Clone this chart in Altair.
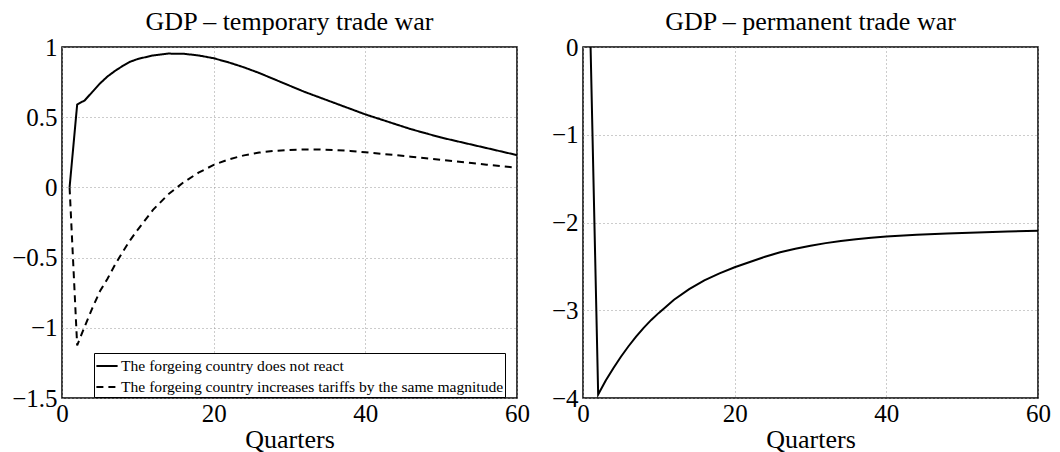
import altair as alt
import pandas as pd

FONT = "Liberation Serif"

# ---- data ----
quarters_temp = [1, 2, 3, 4, 5, 6, 7, 8, 9, 10, 12, 14, 16, 18, 20, 22, 24, 26, 28, 30,
                 32, 34, 36, 38, 40, 42, 44, 46, 48, 50, 52, 54, 56, 58, 60]
no_react = [0, 0.59, 0.62, 0.68, 0.74, 0.79, 0.83, 0.865, 0.895, 0.915,
            0.94, 0.953, 0.952, 0.94, 0.92, 0.89, 0.855, 0.815, 0.77, 0.725,
            0.68, 0.64, 0.60, 0.56, 0.52, 0.485, 0.45, 0.415, 0.385, 0.355,
            0.33, 0.305, 0.28, 0.255, 0.23]
retaliate = [0, -1.125, -0.99, -0.86, -0.74, -0.65, -0.55, -0.46, -0.375, -0.30,
             -0.16, -0.05, 0.035, 0.105, 0.16, 0.20, 0.228, 0.248, 0.26, 0.267,
             0.27, 0.27, 0.266, 0.26, 0.25, 0.24, 0.23, 0.218, 0.207, 0.196,
             0.185, 0.173, 0.162, 0.151, 0.14]

quarters_perm = [1, 2, 3, 4, 5, 6, 7, 8, 9, 10, 12, 14, 16, 18, 20, 22, 24, 26, 28, 30,
                 32, 34, 36, 38, 40, 44, 48, 52, 56, 60]
permanent = [0, -3.96, -3.80, -3.66, -3.53, -3.41, -3.30, -3.20, -3.11, -3.03,
             -2.88, -2.76, -2.66, -2.58, -2.51, -2.45, -2.39, -2.34, -2.30, -2.265,
             -2.235, -2.21, -2.19, -2.175, -2.16, -2.14, -2.125, -2.113, -2.103, -2.095]

series_names = ["The forgeing country does not react",
                "The forgeing country increases tariffs by the same magnitude"]

x_ticks = [0, 20, 40, 60]
y_ticks_temp = [-1.5, -1, -0.5, 0, 0.5, 1]
y_ticks_perm = [-4, -3, -2, -1, 0]

titles = ["GDP – temporary trade war", "GDP – permanent trade war"]
x_title = "Quarters"

# ---- tables ----
df_temp = pd.concat([
    pd.DataFrame({"t": quarters_temp, "v": no_react, "series": series_names[0], "order": 0}),
    pd.DataFrame({"t": quarters_temp, "v": retaliate, "series": series_names[1], "order": 1}),
])
df_perm = pd.DataFrame({"t": quarters_perm, "v": permanent})

W, H = 455, 351


def x_enc():
    return alt.X("t:Q",
                 scale=alt.Scale(domain=[0, 60], nice=False),
                 axis=alt.Axis(values=x_ticks, title=x_title, format="d",
                               labelFlush=False, labelOverlap=False,
                               labelPadding=3, titlePadding=0))


def title_params(text):
    return alt.TitleParams(text=text, font=FONT, fontSize=26, fontWeight="normal",
                           color="black", anchor="middle", offset=0)


left = alt.Chart(df_temp).mark_line(strokeWidth=2, color="black", clip=True).encode(
    x=x_enc(),
    y=alt.Y("v:Q",
            scale=alt.Scale(domain=[-1.5, 1], nice=False, zero=False),
            axis=alt.Axis(values=y_ticks_temp, title=None, format=".1~f",
                          labelFlush=False, labelOverlap=False, labelPadding=5)),
    strokeDash=alt.StrokeDash(
        "series:N",
        scale=alt.Scale(domain=series_names, range=[[1, 0], [7, 5]]),
        legend=alt.Legend(title=None, orient="none", legendX=32, legendY=306,
                          symbolType="stroke", symbolSize=450, symbolStrokeWidth=2,
                          symbolStrokeColor="black", strokeColor="black",
                          fillColor="white", padding=1, rowPadding=0,
                          labelFont=FONT, labelFontSize=15.6, labelColor="black",
                          labelLimit=0, labelOffset=2)),
    order="order:Q",
).properties(width=W, height=H, title=title_params(titles[0]))

right = alt.Chart(df_perm).mark_line(strokeWidth=2, color="black", clip=True).encode(
    x=x_enc(),
    y=alt.Y("v:Q",
            scale=alt.Scale(domain=[-4, 0], nice=False, zero=False),
            axis=alt.Axis(values=y_ticks_perm, title=None, format="d",
                          labelFlush=False, labelOverlap=False, labelPadding=5)),
).properties(width=W, height=H, title=title_params(titles[1]))

chart = alt.hconcat(left, right, spacing=19).properties(
    padding={"left": 2, "top": 0, "right": 0, "bottom": 0}
).configure_view(
    stroke="black", strokeWidth=1.5
).configure_axis(
    domain=False, ticks=False,
    grid=True, gridColor="#999999", gridDash=[1, 3], gridWidth=1,
    labelFont=FONT, labelFontSize=25, labelColor="black",
    titleFont=FONT, titleFontSize=26, titleFontWeight="normal", titleColor="black",
)

chart.save("out.html", embed_options={"renderer": "svg", "actions": False})
